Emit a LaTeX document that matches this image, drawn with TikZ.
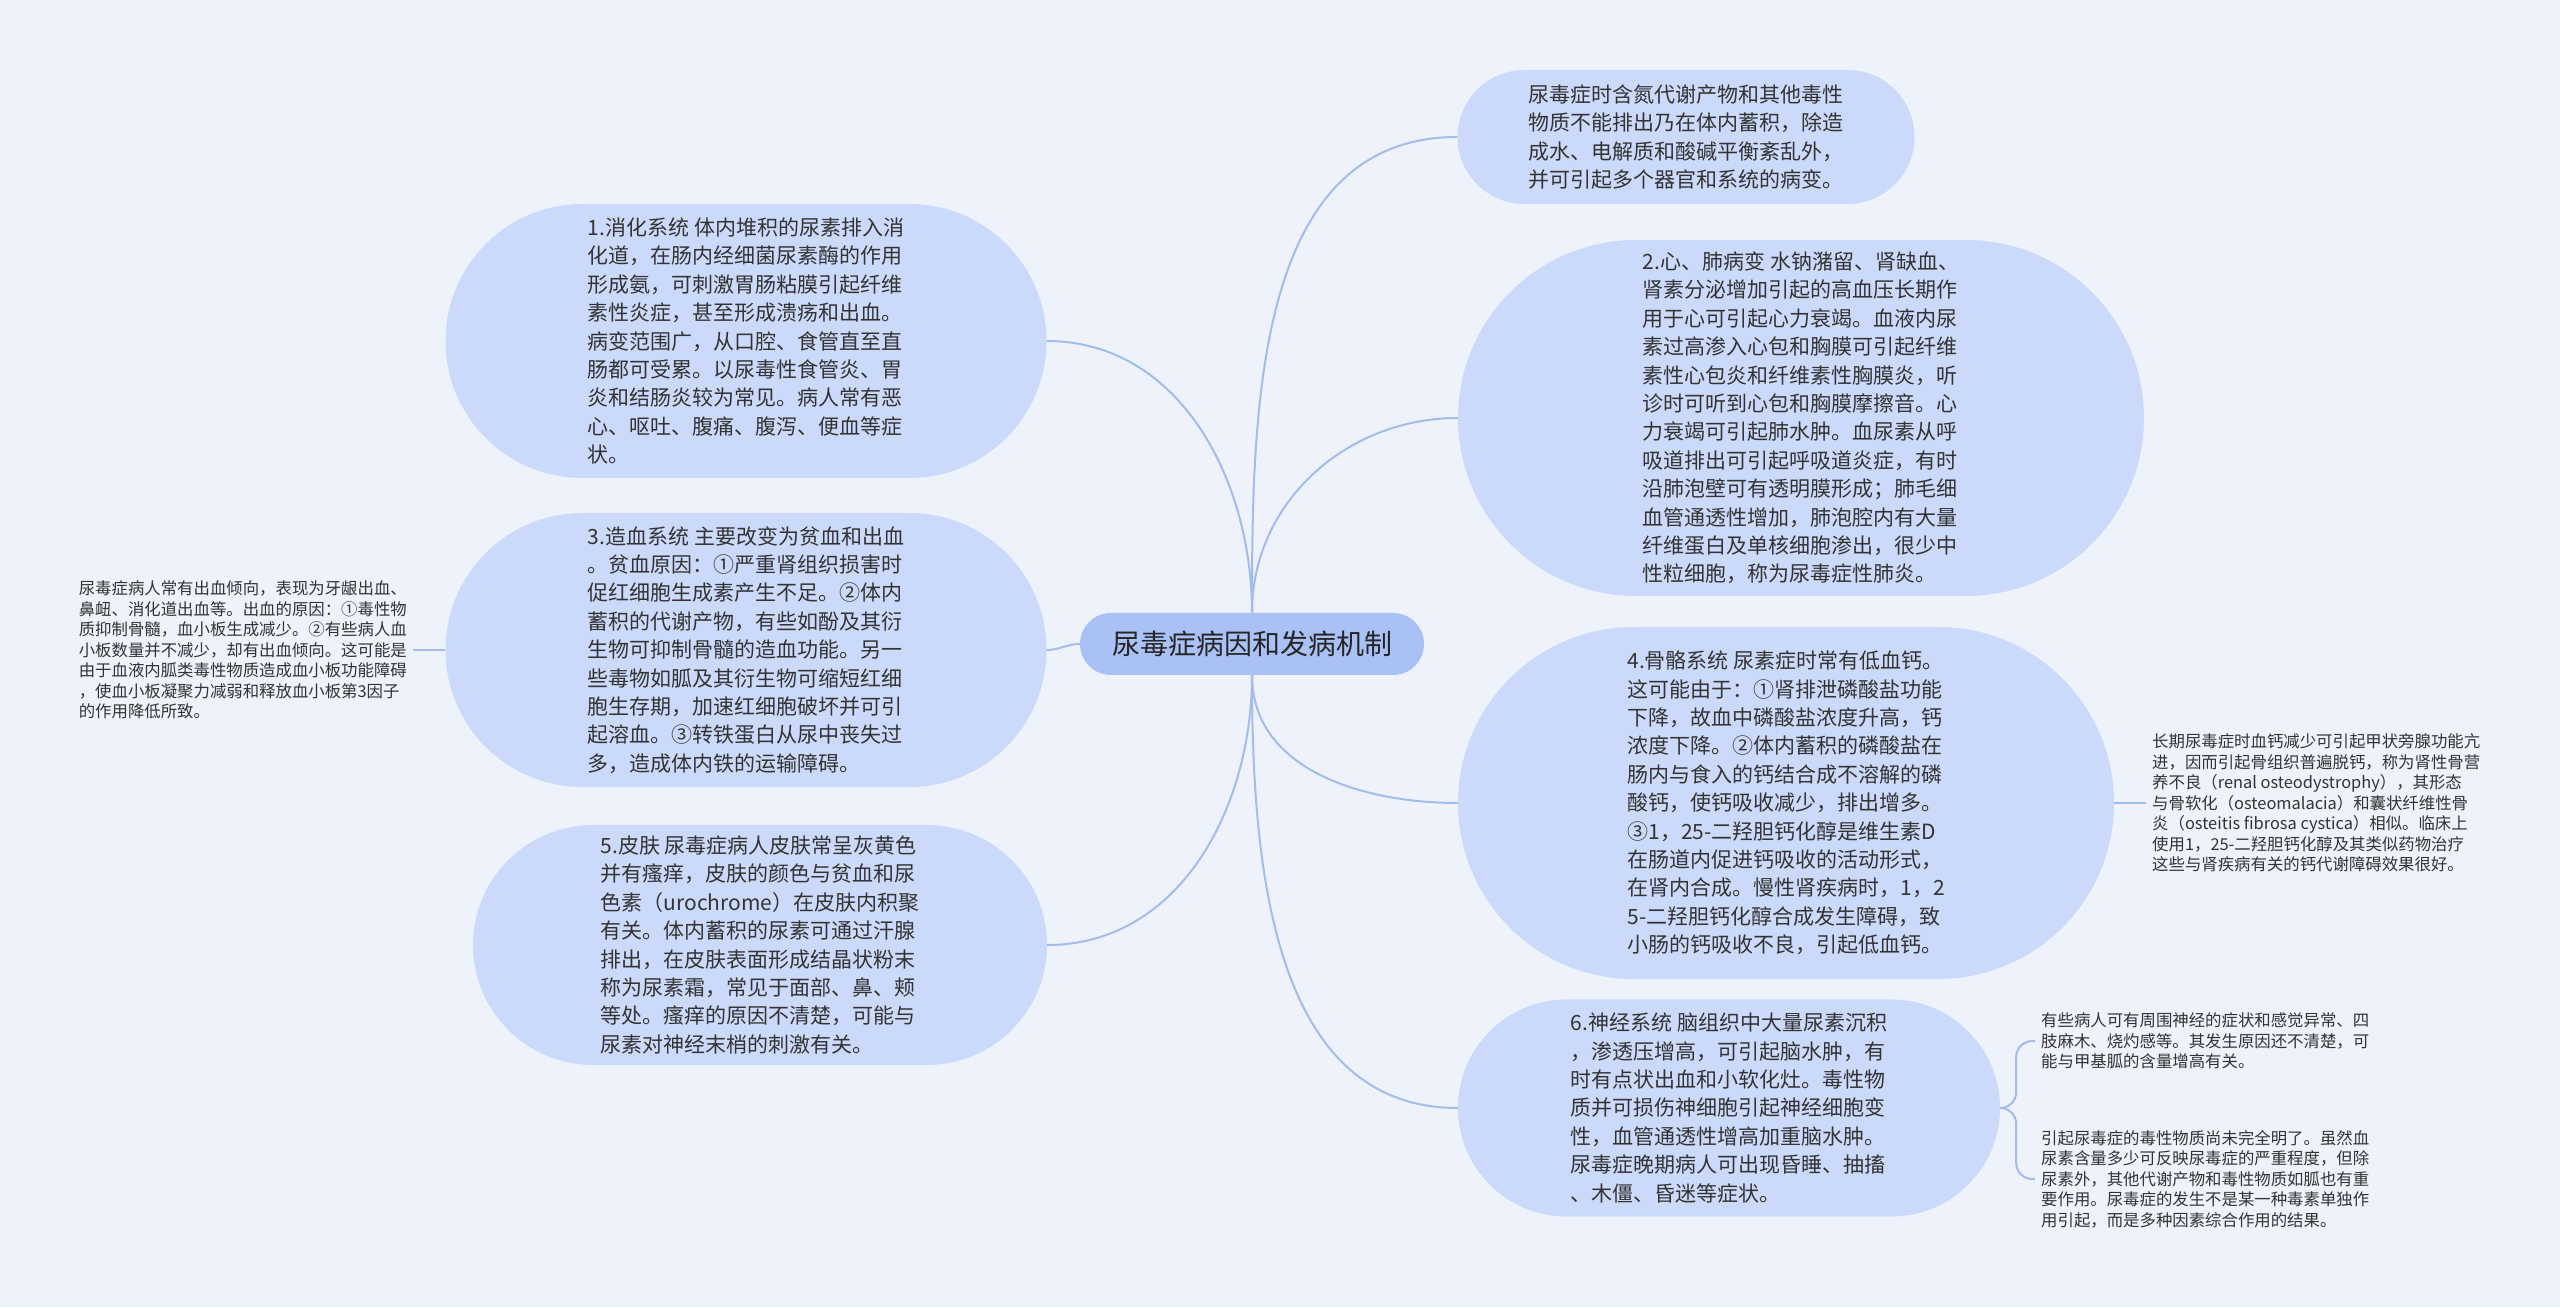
\documentclass[tikz,border=0pt]{standalone}
\usepackage{fontspec}
\setmainfont{Noto Sans CJK SC}
\usetikzlibrary{shapes.misc}

\definecolor{bgcol}{HTML}{EEF2FB}
\definecolor{topiccol}{HTML}{CBDAFA}
\definecolor{rootcol}{HTML}{A9C1F5}
\definecolor{linkcol}{HTML}{A3BCEB}
\definecolor{txtcol}{HTML}{333333}

\tikzset{
	topic/.style={rounded rectangle, fill=topiccol, text=txtcol, align=left, inner sep=0pt, font=\fontsize{21}{28.4}\selectfont},
	note/.style={text=txtcol, align=left, inner sep=6pt, font=\fontsize{16.4}{20.5}\selectfont},
	link/.style={draw=linkcol, line width=2pt}
}

\begin{document}
\begin{tikzpicture}[x=1pt,y=1pt]
	
	\fill[bgcol] (0,0) rectangle (2560,1307);
	\useasboundingbox (0,0) rectangle (2560,1307);
	
	\node[topic, fill=rootcol, minimum width=344pt, minimum height=62pt, text=black!85, font=\fontsize{28}{34}\selectfont] (ctr) at (1252,663) {尿毒症病因和发病机制};
	
	% left side
	\node[topic, minimum width=601pt, minimum height=274pt] (n1) at (746,966) {1.消化系统 体内堆积的尿素排入消\\化道，在肠内经细菌尿素酶的作用\\形成氨，可刺激胃肠粘膜引起纤维\\素性炎症，甚至形成溃疡和出血。\\病变范围广，从口腔、食管直至直\\肠都可受累。以尿毒性食管炎、胃\\炎和结肠炎较为常见。病人常有恶\\心、呕吐、腹痛、腹泻、便血等症\\状。};
	\node[topic, minimum width=601pt, minimum height=274pt] (n3) at (746,657) {3.造血系统 主要改变为贫血和出血\\。贫血原因：①严重肾组织损害时\\促红细胞生成素产生不足。②体内\\蓄积的代谢产物，有些如酚及其衍\\生物可抑制骨髓的造血功能。另一\\些毒物如胍及其衍生物可缩短红细\\胞生存期，加速红细胞破坏并可引\\起溶血。③转铁蛋白从尿中丧失过\\多，造成体内铁的运输障碍。};
	\node[topic, minimum width=574pt, minimum height=240pt] (n5) at (760,362) {5.皮肤 尿毒症病人皮肤常呈灰黄色\\并有瘙痒，皮肤的颜色与贫血和尿\\色素（urochrome）在皮肤内积聚\\有关。体内蓄积的尿素可通过汗腺\\排出，在皮肤表面形成结晶状粉末\\称为尿素霜，常见于面部、鼻、颊\\等处。瘙痒的原因不清楚，可能与\\尿素对神经末梢的刺激有关。};
	\node[note, anchor=east] (n3note) at (413,657) {尿毒症病人常有出血倾向，表现为牙龈出血、\\鼻衄、消化道出血等。出血的原因：①毒性物\\质抑制骨髓，血小板生成减少。②有些病人血\\小板数量并不减少，却有出血倾向。这可能是\\由于血液内胍类毒性物质造成血小板功能障碍\\，使血小板凝聚力减弱和释放血小板第3因子\\的作用降低所致。};
	
	% right side
	\node[topic, minimum width=457pt, minimum height=134pt] (n0) at (1686,1170) {尿毒症时含氮代谢产物和其他毒性\\物质不能排出乃在体内蓄积，除造\\成水、电解质和酸碱平衡紊乱外，\\并可引起多个器官和系统的病变。};
	\node[topic, minimum width=686pt, minimum height=356pt] (n2) at (1801,889) {2.心、肺病变 水钠潴留、肾缺血、\\肾素分泌增加引起的高血压长期作\\用于心可引起心力衰竭。血液内尿\\素过高渗入心包和胸膜可引起纤维\\素性心包炎和纤维素性胸膜炎，听\\诊时可听到心包和胸膜摩擦音。心\\力衰竭可引起肺水肿。血尿素从呼\\吸道排出可引起呼吸道炎症，有时\\沿肺泡壁可有透明膜形成；肺毛细\\血管通透性增加，肺泡腔内有大量\\纤维蛋白及单核细胞渗出，很少中\\性粒细胞，称为尿毒症性肺炎。};
	\node[topic, minimum width=656pt, minimum height=352pt] (n4) at (1786,504) {4.骨骼系统 尿素症时常有低血钙。\\这可能由于：①肾排泄磷酸盐功能\\下降，故血中磷酸盐浓度升高，钙\\浓度下降。②体内蓄积的磷酸盐在\\肠内与食入的钙结合成不溶解的磷\\酸钙，使钙吸收减少，排出增多。\\③1，25-二羟胆钙化醇是维生素D\\在肠道内促进钙吸收的活动形式，\\在肾内合成。慢性肾疾病时，1，2\\5-二羟胆钙化醇合成发生障碍，致\\小肠的钙吸收不良，引起低血钙。};
	\node[topic, minimum width=542pt, minimum height=217pt] (n6) at (1729,199) {6.神经系统 脑组织中大量尿素沉积\\，渗透压增高，可引起脑水肿，有\\时有点状出血和小软化灶。毒性物\\质并可损伤神细胞引起神经细胞变\\性，血管通透性增高加重脑水肿。\\尿毒症晚期病人可出现昏睡、抽搐\\、木僵、昏迷等症状。};
	\node[note, anchor=west] (n4note) at (2146,504) {长期尿毒症时血钙减少可引起甲状旁腺功能亢\\进，因而引起骨组织普遍脱钙，称为肾性骨营\\养不良（renal osteodystrophy），其形态\\与骨软化（osteomalacia）和囊状纤维性骨\\炎（osteitis fibrosa cystica）相似。临床上\\使用1，25-二羟胆钙化醇及其类似药物治疗\\这些与肾疾病有关的钙代谢障碍效果很好。};
	\node[note, anchor=west] (n6a) at (2035,266) {有些病人可有周围神经的症状和感觉异常、四\\肢麻木、烧灼感等。其发生原因还不清楚，可\\能与甲基胍的含量增高有关。};
	\node[note, anchor=west] (n6b) at (2035,128) {引起尿毒症的毒性物质尚未完全明了。虽然血\\尿素含量多少可反映尿毒症的严重程度，但除\\尿素外，其他代谢产物和毒性物质如胍也有重\\要作用。尿毒症的发生不是某一种毒素单独作\\用引起，而是多种因素综合作用的结果。};
	
	\draw[link] (ctr.north) to[out=90, in=0] (n1.east);
	\draw[link] (ctr.west) to[out=180, in=0] (n3.east);
	\draw[link] (ctr.south) to[out=-90, in=0] (n5.east);
	\draw[link] (ctr.north) to[out=90, in=180] (n0.west);
	\draw[link] (ctr.north) to[out=90, in=180] (n2.west);
	\draw[link] (ctr.south) to[out=-90, in=180] (n4.west);
	\draw[link] (ctr.south) to[out=-90, in=180] (n6.west);
	\draw[link] (n3.west) -- (n3note.east);
	\draw[link] (n4.east) -- (n4note.west);
	\draw[link, rounded corners=16pt] (n6.east) -- ++(16,0) |- (n6a.west);
	\draw[link, rounded corners=16pt] (n6.east) -- ++(16,0) |- (n6b.west);
	
\end{tikzpicture}
\end{document}
